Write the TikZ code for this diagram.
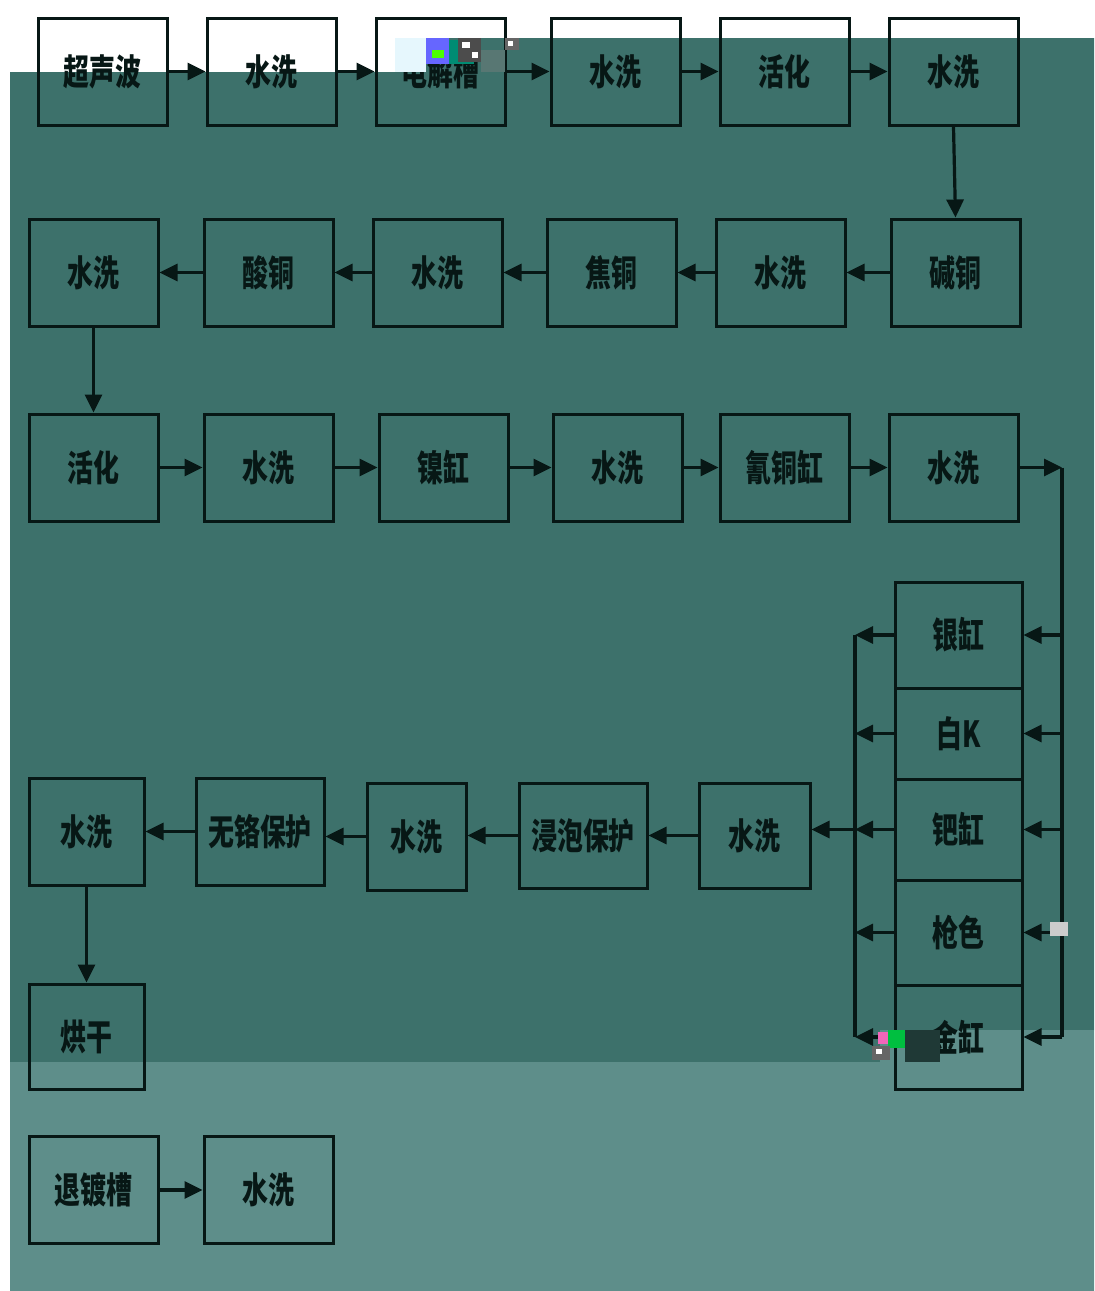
\documentclass[tikz,border=0pt]{standalone}
\usepackage{fontspec}
\newfontfamily\cjk{Noto Sans CJK SC}[FakeStretch=0.72]
\usetikzlibrary{arrows.meta}
\definecolor{darkteal}{HTML}{3D716B}
\definecolor{lightteal}{HTML}{5E8E8A}
\definecolor{ink}{HTML}{071715}

\begin{document}
\begin{tikzpicture}[x=0.5pt,y=-0.5pt,>={Triangle[length=9pt,width=8.5pt]},
  stepbox/.style={draw=ink,line width=1.5pt,inner sep=0pt,text=ink,font=\cjk\bfseries\fontsize{18pt}{20pt}\selectfont,minimum width=64.5pt,minimum height=53.5pt},
  flow/.style={draw=ink,line width=1.6pt,->}]
\useasboundingbox (0,0) rectangle (1094,1291);
\fill[white] (0,0) rectangle (1094,1291);
% background bands
\fill[darkteal] (10,72) -- (395,72) -- (395,38) -- (1094,38) -- (1094,1030) -- (880,1030) -- (880,1062) -- (10,1062) -- cycle;
\fill[lightteal] (10,1062) -- (880,1062) -- (880,1030) -- (1094,1030) -- (1094,1291) -- (10,1291) -- cycle;

% row 1
\node[stepbox] (a1) at (102.5,71.5) {超声波};
\node[stepbox] (a2) at (271.5,71.5) {水洗};
\node[stepbox] (a3) at (440.5,71.5) {电解槽};
\node[stepbox] (a4) at (615.5,71.5) {水洗};
\node[stepbox] (a5) at (784.5,71.5) {活化};
\node[stepbox] (a6) at (953.5,71.5) {水洗};
\foreach \i/\j in {a1/a2,a2/a3,a3/a4,a4/a5,a5/a6}{\draw[flow] (\i.east) -- (\j.west);}

% row 2
\node[stepbox] (b1) at (93.5,272.5) {水洗};
\node[stepbox] (b2) at (268.5,272.5) {酸铜};
\node[stepbox] (b3) at (437.5,272.5) {水洗};
\node[stepbox] (b4) at (611.5,272.5) {焦铜};
\node[stepbox] (b5) at (780.5,272.5) {水洗};
\node[stepbox] (b6) at (955.5,272.5) {碱铜};
\foreach \i/\j in {b6/b5,b5/b4,b4/b3,b3/b2,b2/b1}{\draw[flow] (\i.west) -- (\j.east);}
\draw[flow] (a6.south) -- (b6.north);

% row 3
\node[stepbox] (c1) at (93.5,467.5) {活化};
\node[stepbox] (c2) at (268.5,467.5) {水洗};
\node[stepbox] (c3) at (443.5,467.5) {镍缸};
\node[stepbox] (c4) at (617.5,467.5) {水洗};
\node[stepbox] (c5) at (784.5,467.5) {氰铜缸};
\node[stepbox] (c6) at (953.5,467.5) {水洗};
\foreach \i/\j in {c1/c2,c2/c3,c3/c4,c4/c5,c5/c6}{\draw[flow] (\i.east) -- (\j.west);}
\draw[flow] (b1.south) -- (c1.north);

% plating stack
\node[stepbox,minimum width=63.5pt,minimum height=53pt] (s1) at (958.5,635) {银缸};
\node[stepbox,minimum width=63.5pt,minimum height=45.5pt] (s2) at (958.5,733.5) {白K};
\node[stepbox,minimum width=63.5pt,minimum height=50.5pt] (s3) at (958.5,829.5) {钯缸};
\node[stepbox,minimum width=63.5pt,minimum height=52.5pt] (s4) at (958.5,932.5) {枪色};
\node[stepbox,minimum width=63.5pt,minimum height=52pt] (s5) at (958.5,1037) {金缸};
\coordinate (rt) at (1062,467.5);
\coordinate (rb) at (1062,1037);
\coordinate (lt) at (855,635);
\coordinate (lb) at (855,1037);
\draw[flow] (c6.east) -- (rt);
\draw[draw=ink,line width=1.6pt] (rt) -- (rb);
\draw[draw=ink,line width=1.6pt] (lt) -- (lb);
\foreach \n in {s1,s2,s3,s4,s5}{
  \draw[flow] (rt |- \n) -- (\n.east);
  \draw[flow] (\n.west) -- (lt |- \n);
}

% row 4
\node[stepbox,minimum width=55.5pt,minimum height=52.5pt] (d1) at (754.5,835.5) {水洗};
\node[stepbox,minimum width=64pt,minimum height=52.5pt] (d2) at (583,835.5) {浸泡保护};
\node[stepbox,minimum width=49.5pt,minimum height=53.5pt] (d3) at (416.5,836.5) {水洗};
\node[stepbox,minimum width=64pt,minimum height=53.5pt] (d4) at (260,831.5) {无铬保护};
\node[stepbox,minimum width=57.5pt,minimum height=53.5pt] (d5) at (86.5,831.5) {水洗};
\node[stepbox,minimum width=57.5pt,minimum height=52.5pt] (d6) at (86.5,1036.5) {烘干};
\draw[flow] (lt |- s3) -- (d1.east |- s3);
\foreach \i/\j in {d1/d2,d2/d3,d3/d4,d4/d5}{\draw[flow] (\i.west) -- (\j.east |- \i.west);}
\draw[flow] (d5.south) -- (d6.north);

% row 5
\node[stepbox] (e1) at (93.5,1190) {退镀槽};
\node[stepbox] (e2) at (268.5,1190) {水洗};
\draw[flow] (e1.east) -- (e2.west);

% scan noise
\fill[cyan!10] (395,38) rectangle (426,72);
\fill[blue!60] (426,38) rectangle (449,64);
\fill[green!70!yellow] (432,50) rectangle (444,58);
\fill[blue!45!green] (449,40) rectangle (474,64);
\fill[black!70] (458,38) rectangle (481,62);
\fill[white] (462,42) rectangle (470,48);
\fill[white] (472,52) rectangle (478,58);
\fill[darkteal!60!gray] (481,50) rectangle (505,72);
\fill[black!60] (505,38) rectangle (519,50);
\fill[white] (508,41) rectangle (513,46);
\fill[magenta!60] (878,1032) rectangle (898,1044);
\fill[green!50!teal] (888,1030) rectangle (905,1048);
\fill[black!60] (872,1046) rectangle (890,1060);
\fill[white] (876,1049) rectangle (882,1054);
\fill[darkteal!50!black] (905,1030) rectangle (940,1062);
\fill[gray!40] (1050,922) rectangle (1068,936);
\end{tikzpicture}
\end{document}
